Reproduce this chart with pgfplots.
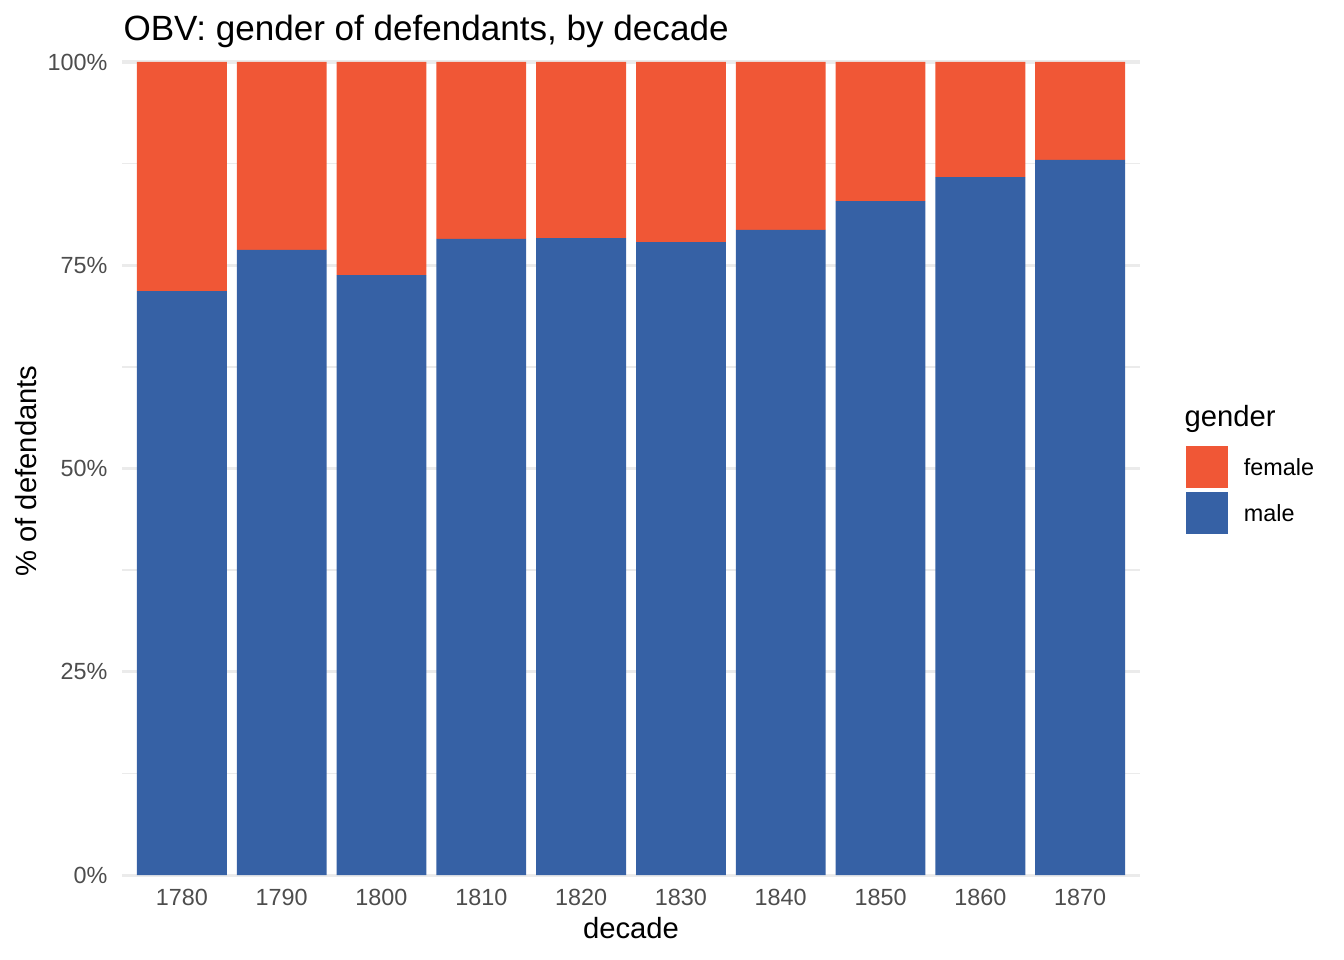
\documentclass[border=0pt]{standalone}
\usepackage{fontspec}
\setmainfont{Liberation Sans}
\usepackage{pgfplots}
\pgfplotsset{compat=1.18}
\definecolor{femalec}{RGB}{240,87,54}
\definecolor{malec}{RGB}{54,97,165}
\definecolor{gridc}{RGB}{235,235,235}
\definecolor{tickc}{RGB}{77,77,77}
\begin{document}
\begin{tikzpicture}
\begin{scope}[x=0.37641pt,y=-0.37641pt]
\useasboundingbox (0,0) rectangle (1344,960);
\coordinate (o) at (122,875);
\node[anchor=base west,inner sep=0pt,font=\fontsize{13.2}{15}\selectfont] at (123,40) {OBV: gender of defendants, by decade};
\node[anchor=base,inner sep=0pt,font=\fontsize{11}{13}\selectfont] at (631,938) {decade};
\node[anchor=base,rotate=90,inner sep=0pt,font=\fontsize{11}{13}\selectfont] at (36,471) {\% of defendants};
\node[anchor=base west,inner sep=0pt,font=\fontsize{11}{13}\selectfont] at (1184,426) {gender};
\end{scope}
\begin{axis}[
  at={(o)}, anchor=south west,
  scale only axis,
  width=383.19pt, height=306.02pt,
  xmin=0.4, xmax=10.6, ymin=0, ymax=100,
  ybar stacked, bar width=0.9,
  axis line style={draw=none},
  tick style={draw=none},
  xtick={1,...,10},
  xticklabels={1780,1790,1800,1810,1820,1830,1840,1850,1860,1870},
  ytick={0,25,50,75,100},
  yticklabels={0\%,25\%,50\%,75\%,100\%},
  minor ytick={12.5,37.5,62.5,87.5},
  ymajorgrids, yminorgrids,
  major grid style={draw=gridc,line width=1.13pt},
  minor grid style={draw=gridc,line width=0.57pt},
  xticklabel style={anchor=base,inner sep=0pt,yshift=-11.29pt,text=tickc,font=\fontsize{8.8}{10}\selectfont},
  yticklabel style={anchor=east,inner sep=0pt,xshift=-5.27pt,text=tickc,font=\fontsize{8.8}{10}\selectfont},
  reverse legend,
  legend image code/.code={\fill[#1] (0pt,-7.9pt) rectangle (15.81pt,7.9pt);},
  legend style={at={(1.04519,0.52768)}, anchor=north west, draw=none, fill=none,
    inner sep=0pt, outer sep=0pt, row sep=1.5pt, column sep=6pt,
    font=\fontsize{8.8}{10}\selectfont, nodes={inner sep=0pt}},
  legend cell align=left,
]
\addplot[fill=malec,draw=none] coordinates {(1,71.83) (2,76.88) (3,73.80) (4,78.23) (5,78.35) (6,77.86) (7,79.34) (8,82.90) (9,85.85) (10,87.95)};
\addplot[fill=femalec,draw=none] coordinates {(1,28.17) (2,23.12) (3,26.20) (4,21.77) (5,21.65) (6,22.14) (7,20.66) (8,17.10) (9,14.15) (10,12.05)};
\legend{\raisebox{-0.8pt}[\height][\depth]{male},\raisebox{-0.8pt}[\height][\depth]{female}}
\end{axis}
\end{tikzpicture}
\end{document}
